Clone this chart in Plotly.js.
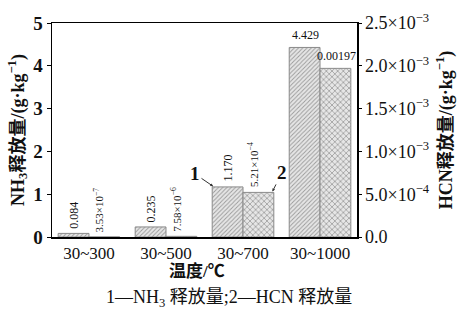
<!DOCTYPE html>
<html><head><meta charset="utf-8">
<script src="https://cdn.plot.ly/plotly-3.0.1.min.js"></script>
<style>body{margin:0;background:#fff}#c{width:457px;height:325px}</style>
</head><body><div id="c"></div>
<script>
const categories = ["30~300", "30~500", "30~700", "30~1000"];
const nh3 = [0.084, 0.235, 1.170, 4.429];
const hcn = [3.53e-7, 7.58e-6, 5.21e-4, 0.00197];
const nh3Labels = ["0.084", "0.235", "1.170", "4.429"];
const hcnLabels = ["3.53×10<sup>−7</sup>", "7.58×10<sup>−6</sup>", "5.21×10<sup>−4</sup>", "0.00197"];
const labelAngles = [-90, -90, -90, 0];
const rightTickVals = [0, 5e-4, 1e-3, 1.5e-3, 2e-3, 2.5e-3];
const rightTickText = ["0.0", "5.0×10<sup>−4</sup>", "1.0×10<sup>−3</sup>", "1.5×10<sup>−3</sup>", "2.0×10<sup>−3</sup>", "2.5×10<sup>−3</sup>"];

const serif = "Liberation Serif, Noto Sans CJK SC, serif";
const traces = [
  {type:'bar', x:categories, y:nh3, name:'NH3', offsetgroup:'a', yaxis:'y',
   marker:{color:'#e4e4e4', line:{color:'#8a8a8a', width:1},
     pattern:{shape:'/', fgcolor:'#9a9a9a', bgcolor:'#e6e6e6', size:3, solidity:0.3}}},
  {type:'bar', x:categories, y:hcn, name:'HCN', offsetgroup:'b', yaxis:'y2',
   marker:{color:'#e4e4e4', line:{color:'#8a8a8a', width:1},
     pattern:{shape:'x', fgcolor:'#9a9a9a', bgcolor:'#e6e6e6', size:4, solidity:0.35}}}
];

const ann = [];
categories.forEach((c,i)=>{
  const rot = labelAngles[i];
  ann.push({x:c, y:nh3[i], xref:'x', yref:'y', text:nh3Labels[i], showarrow:false,
    textangle:rot, xshift:-15, yshift:3, yanchor:'bottom',
    font:{family:serif, size:12, color:'#111'}});
  ann.push({x:c, y:hcn[i], xref:'x', yref:'y2', text:hcnLabels[i], showarrow:false,
    textangle:rot, xshift:rot===0?16:10, yshift:3, yanchor:'bottom',
    font:{family:serif, size:rot===0?12:11, color:'#111'}});
});
// pointer labels
ann.push({x:categories[2], y:nh3[2], xref:'x', yref:'y', text:'1', showarrow:true,
  ax:-19, ay:-13, xshift:-29, arrowhead:2, arrowsize:0.6, arrowwidth:1, arrowcolor:'#333', standoff:1,
  font:{family:serif, size:19, color:'#111', weight:'bold'}});
ann.push({x:categories[2], y:hcn[2], xref:'x', yref:'y2', text:'2', showarrow:true,
  ax:10, ay:-20, xshift:29, arrowhead:2, arrowsize:0.6, arrowwidth:1, arrowcolor:'#333', standoff:1,
  font:{family:serif, size:19, color:'#111', weight:'bold'}});
ann.push({x:0.5, y:0, xref:'paper', yref:'paper', xanchor:'center', yanchor:'middle', showarrow:false,
  xshift:-8, yshift:-34,
  text:'温度/℃', font:{family:serif, size:17, color:'#111', weight:'bold'}});
ann.push({x:0.5, y:0, xref:'paper', yref:'paper', yshift:-61, showarrow:false, xanchor:'center', yanchor:'middle',
  xshift:24, text:'1—NH<sub>3</sub> 释放量;2—HCN 释放量', font:{family:serif, size:18, color:'#111'}});

const layout = {
  width:457, height:325,
  margin:{l:52, r:100, t:23, b:88},
  paper_bgcolor:'#fff', plot_bgcolor:'#fff',
  showlegend:false, barmode:'group', bargap:0.2, bargroupgap:0,
  font:{family:serif, color:'#111'},
  xaxis:{range:[-0.48, 3.48], showline:true, linecolor:'#000', linewidth:1.5, mirror:true,
    ticks:'', tickfont:{family:serif, size:17, color:'#111'}, showgrid:false, zeroline:false},
  yaxis:{range:[0,5], tickvals:[0,1,2,3,4,5], showline:true, linecolor:'#000', linewidth:1.5,
    ticks:'outside', ticklen:4, tickcolor:'#000', showgrid:false, zeroline:false,
    tickfont:{family:serif, size:19, color:'#111', weight:'bold'},
    title:{text:'NH<sub>3</sub>释放量/(g·kg<sup>−1</sup>)', standoff:4,
      font:{family:serif, size:18, color:'#111', weight:'bold'}}},
  yaxis2:{range:[0,2.5e-3], overlaying:'y', side:'right', tickvals:rightTickVals, ticktext:rightTickText,
    showline:true, linecolor:'#000', linewidth:1.5, ticks:'outside', ticklen:3, tickcolor:'#000',
    showgrid:false, zeroline:false, tickfont:{family:serif, size:18, color:'#111'},
    title:{text:'HCN释放量/(g·kg<sup>−1</sup>)', standoff:10,
      font:{family:serif, size:18, color:'#111', weight:'bold'}}},
  annotations: ann
};
Plotly.newPlot('c', traces, layout, {displayModeBar:false, staticPlot:true});
</script></body></html>
